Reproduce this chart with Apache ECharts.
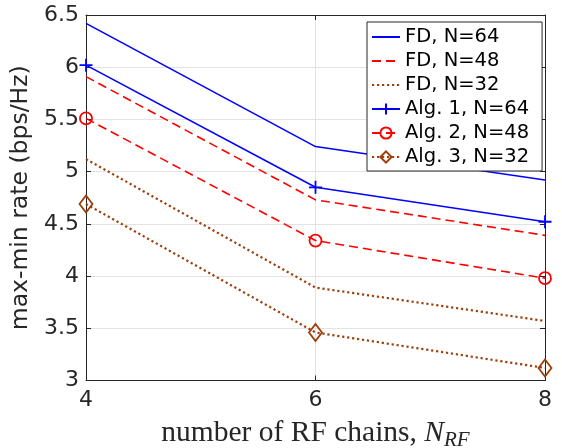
<!DOCTYPE html>
<html>
<head>
<meta charset="utf-8">
<script src="https://cdn.jsdelivr.net/npm/echarts@6/dist/echarts.min.js"></script>
<style>
  html, body { margin: 0; padding: 0; background: #fff; }
  #chart { width: 562px; height: 448px; }
</style>
</head>
<body>
<div id="chart"></div>
<script>
// number of RF chains on the x axis
const rfChains = [4, 6, 8];

// max-min rate (bps/Hz)
const fdN64 = [6.42, 5.24, 4.92];
const fdN48 = [5.91, 4.73, 4.39];
const fdN32 = [5.12, 3.89, 3.57];
const alg1N64 = [6.02, 4.85, 4.52];
const alg2N48 = [5.51, 4.34, 3.98];
const alg3N32 = [4.69, 3.46, 3.12];

const seriesNames = ['FD, N=64', 'FD, N=48', 'FD, N=32', 'Alg. 1, N=64', 'Alg. 2, N=48', 'Alg. 3, N=32'];

const BLUE = '#0000ff';
const RED = '#ff0000';
const BROWN = '#9c3f0a';
const AXIS = '#262626';
const GRID = '#e3e3e3';
const SANS = 'DejaVu Sans';
const CLEAR = 'rgba(0,0,0,0)';

const pair = (ys) => rfChains.map((x, i) => [x, ys[i]]);

function lineSeries(name, ys, color, type, symbol, size) {
  const marked = !!symbol;
  return {
    name: name,
    type: 'line',
    data: pair(ys),
    symbol: marked ? symbol : 'circle',
    symbolSize: marked ? size : 0,
    showAllSymbol: true,
    clip: false,
    lineStyle: { color: color, width: type === 'dotted' ? 2.2 : 1.6,
                 type: type === 'dashed' ? [9, 5] : (type === 'dotted' ? [2.2, 2.8] : 'solid') },
    // plain curves carry no marker, so their legend icon is the bare line
    itemStyle: { color: CLEAR, borderColor: marked ? color : CLEAR, borderWidth: marked ? 1.8 : 0 },
    emphasis: { disabled: true },
    animation: false
  };
}

const plusPath = 'path://M5,0 L5,10 M0,5 L10,5';

const axisCommon = {
  axisLine: { show: true, onZero: false, lineStyle: { color: AXIS, width: 1 } },
  axisTick: { show: true, inside: true, length: 5, lineStyle: { color: AXIS } },
  splitLine: { show: false }
};

const chart = echarts.init(document.getElementById('chart'), null, { renderer: 'canvas' });
chart.setOption({
  animation: false,
  backgroundColor: '#fff',
  grid: { left: 86, right: 17, top: 15, bottom: 67.5, containLabel: false, outerBoundsMode: 'none' },
  xAxis: [
    Object.assign({}, axisCommon, {
      type: 'value', min: 4, max: 8, interval: 2, position: 'bottom',
      splitLine: { show: true, lineStyle: { color: GRID, width: 1 } },
      axisLabel: { fontFamily: SANS, fontSize: 22, color: AXIS, margin: 9 },
      name: 'number of RF chains, {it|N}{sub|RF}',
      nameLocation: 'middle', nameGap: 36,
      nameTextStyle: {
        fontFamily: 'Liberation Serif', fontSize: 29.5, color: AXIS,
        rich: {
          it: { fontFamily: 'Liberation Serif', fontStyle: 'italic', fontSize: 29.5, color: AXIS },
          sub: { fontFamily: 'Liberation Serif', fontStyle: 'italic', fontSize: 21, color: AXIS, padding: [13, 0, 0, 0] }
        }
      }
    }),
    Object.assign({}, axisCommon, {
      type: 'value', min: 4, max: 8, interval: 2, position: 'top',
      axisLabel: { show: false }
    })
  ],
  yAxis: [
    Object.assign({}, axisCommon, {
      type: 'value', min: 3, max: 6.5, interval: 0.5, position: 'left',
      splitLine: { show: true, lineStyle: { color: GRID, width: 1 } },
      axisLabel: { fontFamily: SANS, fontSize: 22, color: AXIS, margin: 7 },
      name: 'max-min rate (bps/Hz)',
      nameLocation: 'middle', nameGap: 35,
      nameTextStyle: { fontFamily: SANS, fontSize: 23.5, color: AXIS }
    }),
    Object.assign({}, axisCommon, {
      type: 'value', min: 3, max: 6.5, interval: 0.5, position: 'right',
      axisLabel: { show: false }
    })
  ],
  legend: {
    orient: 'vertical',
    left: 367, top: 22,
    data: seriesNames,
    itemWidth: 28, itemHeight: 14, itemGap: 4,
    padding: [5, 13, 4, 4],
    backgroundColor: '#fff',
    borderColor: AXIS, borderWidth: 1,
    textStyle: { fontFamily: SANS, fontSize: 19.5, color: '#000' },
    selectedMode: false
  },
  series: [
    lineSeries(seriesNames[0], fdN64, BLUE, 'solid'),
    lineSeries(seriesNames[1], fdN48, RED, 'dashed'),
    lineSeries(seriesNames[2], fdN32, BROWN, 'dotted'),
    lineSeries(seriesNames[3], alg1N64, BLUE, 'solid', plusPath, 13),
    lineSeries(seriesNames[4], alg2N48, RED, 'dashed', 'circle', 12),
    lineSeries(seriesNames[5], alg3N32, BROWN, 'dotted', 'diamond', [13, 17])
  ]
});
</script>
</body>
</html>
